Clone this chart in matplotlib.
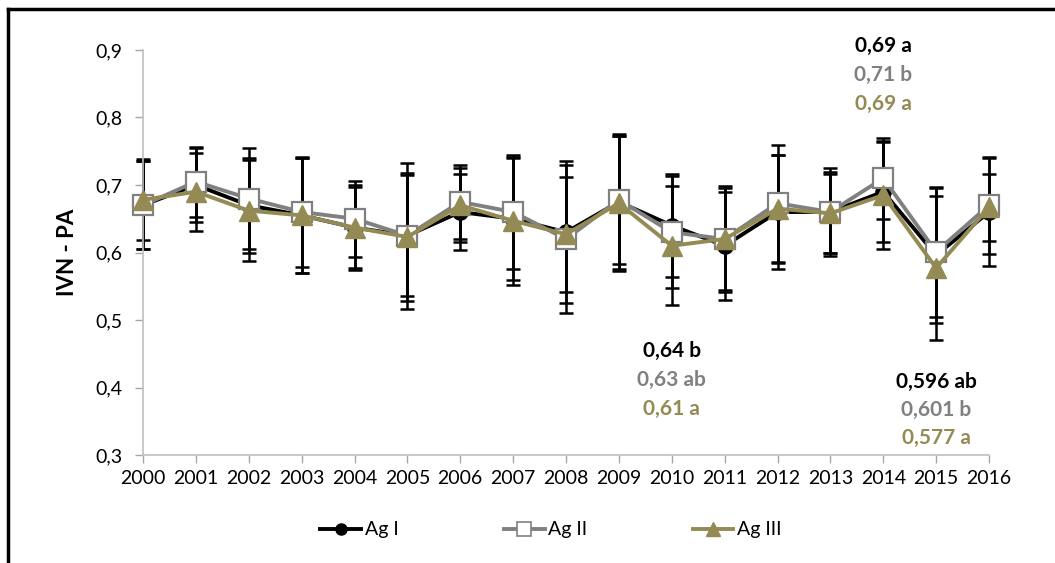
import matplotlib
matplotlib.use('Agg')
import matplotlib.pyplot as plt
from matplotlib.lines import Line2D
import numpy as np

plt.rcParams['font.family'] = ['Lato', 'DejaVu Sans']

# Values
years = list(range(2000, 2017))
ag1 = [0.670, 0.700, 0.670, 0.655, 0.637, 0.625, 0.660, 0.650, 0.630, 0.675,
       0.640, 0.610, 0.660, 0.660, 0.690, 0.596, 0.660]
ag2 = [0.670, 0.705, 0.680, 0.660, 0.650, 0.625, 0.675, 0.660, 0.620, 0.678,
       0.630, 0.620, 0.673, 0.660, 0.710, 0.601, 0.670]
ag3 = [0.678, 0.690, 0.662, 0.655, 0.637, 0.623, 0.670, 0.647, 0.627, 0.673,
       0.610, 0.620, 0.665, 0.658, 0.685, 0.577, 0.667]
# error bar half widths
err1 = [0.065, 0.055, 0.070, 0.085, 0.063, 0.090, 0.057, 0.090, 0.105, 0.100,
        0.077, 0.080, 0.085, 0.060, 0.074, 0.100, 0.080]
err2 = [0.065, 0.052, 0.075, 0.082, 0.056, 0.108, 0.055, 0.085, 0.110, 0.095,
        0.083, 0.075, 0.087, 0.065, 0.060, 0.096, 0.072]
err3 = [0.060, 0.058, 0.075, 0.085, 0.060, 0.095, 0.055, 0.095, 0.085, 0.100,
        0.088, 0.078, 0.080, 0.058, 0.080, 0.107, 0.050]
names = ['Ag I', 'Ag II', 'Ag III']

# significance labels: (year, y position, text) per series
notes1 = [(2014, 0.906, '0,69 a'), (2010, 0.454, '0,64 b'), (2015, 0.408, '0,596 ab')]
notes2 = [(2014, 0.863, '0,71 b'), (2010, 0.411, '0,63 ab'), (2015, 0.367, '0,601 b')]
notes3 = [(2014, 0.820, '0,69 a'), (2010, 0.368, '0,61 a'), (2015, 0.325, '0,577 a')]

black = '#000000'
grey = '#808080'
olive = '#948A54'

fig = plt.figure(figsize=(10.55, 5.63), dpi=100)
ax = fig.add_axes([143/1055, 1-455/563, (989-143)/1055, (455-50)/563])

# error bars (all black)
for vals, err in [(ag1, err1), (ag2, err2), (ag3, err3)]:
    ax.errorbar(years, vals, yerr=err, fmt='none', ecolor='black',
                elinewidth=1.8, capsize=5, capthick=1.8, zorder=2, clip_on=False)

l1, = ax.plot(years, ag1, color=black, lw=2.8, marker='o', ms=11,
              mfc=black, mec=black, zorder=3, clip_on=False)
l2, = ax.plot(years, ag2, color=grey, lw=2.8, marker='s', ms=15,
              mfc='white', mec=grey, mew=1.6, zorder=4, clip_on=False)
l3, = ax.plot(years, ag3, color=olive, lw=2.8, marker='^', ms=15,
              mfc=olive, mec=olive, zorder=5, clip_on=False)

for notes, c in [(notes1, black), (notes2, grey), (notes3, olive)]:
    for x, y, t in notes:
        ax.text(x, y, t, color=c, fontsize=15, fontweight='bold',
                ha='center', va='center', clip_on=False)

ax.set_xlim(2000, 2016)
ax.set_ylim(0.3, 0.9)
ax.set_xticks(years)
ax.set_xticklabels([str(y) for y in years])
yt = np.arange(0.3, 0.91, 0.1)
ax.set_yticks(yt)
ax.set_yticklabels([f'{v:.1f}'.replace('.', ',') for v in yt])
ax.tick_params(axis='both', colors='#a6a6a6', length=6, width=1, labelsize=14,
               labelcolor='black')
ax.tick_params(axis='x', pad=5)
ax.tick_params(axis='y', pad=9)
for s in ['top', 'right']:
    ax.spines[s].set_visible(False)
for s in ['left', 'bottom']:
    ax.spines[s].set_color('#bfbfbf')
    ax.spines[s].set_linewidth(1.2)

ax.set_ylabel('IVN - PA', fontsize=16, fontweight='bold', labelpad=12)

handles = [
    Line2D([], [], color=black, lw=2.8, marker='o', ms=8, mfc=black, mec=black),
    Line2D([], [], color=grey, lw=2.8, marker='s', ms=10, mfc='white', mec=grey, mew=1.2),
    Line2D([], [], color=olive, lw=2.8, marker='^', ms=10, mfc=olive, mec=olive),
]
fig.legend(handles, names, loc='center', bbox_to_anchor=(551/1055, 1-530/563),
           ncol=3, frameon=False, fontsize=14, handlelength=2.1,
           handletextpad=0.2, columnspacing=5.4)

# frame lines at top and left of the picture
fig.add_artist(Line2D([8/1055, 1], [1-9/563, 1-9/563], color='black', lw=2.5,
                      transform=fig.transFigure))
fig.add_artist(Line2D([8/1055, 8/1055], [0, 1-9/563], color='black', lw=2.5,
                      transform=fig.transFigure))

fig.savefig('out.png', dpi=100)
